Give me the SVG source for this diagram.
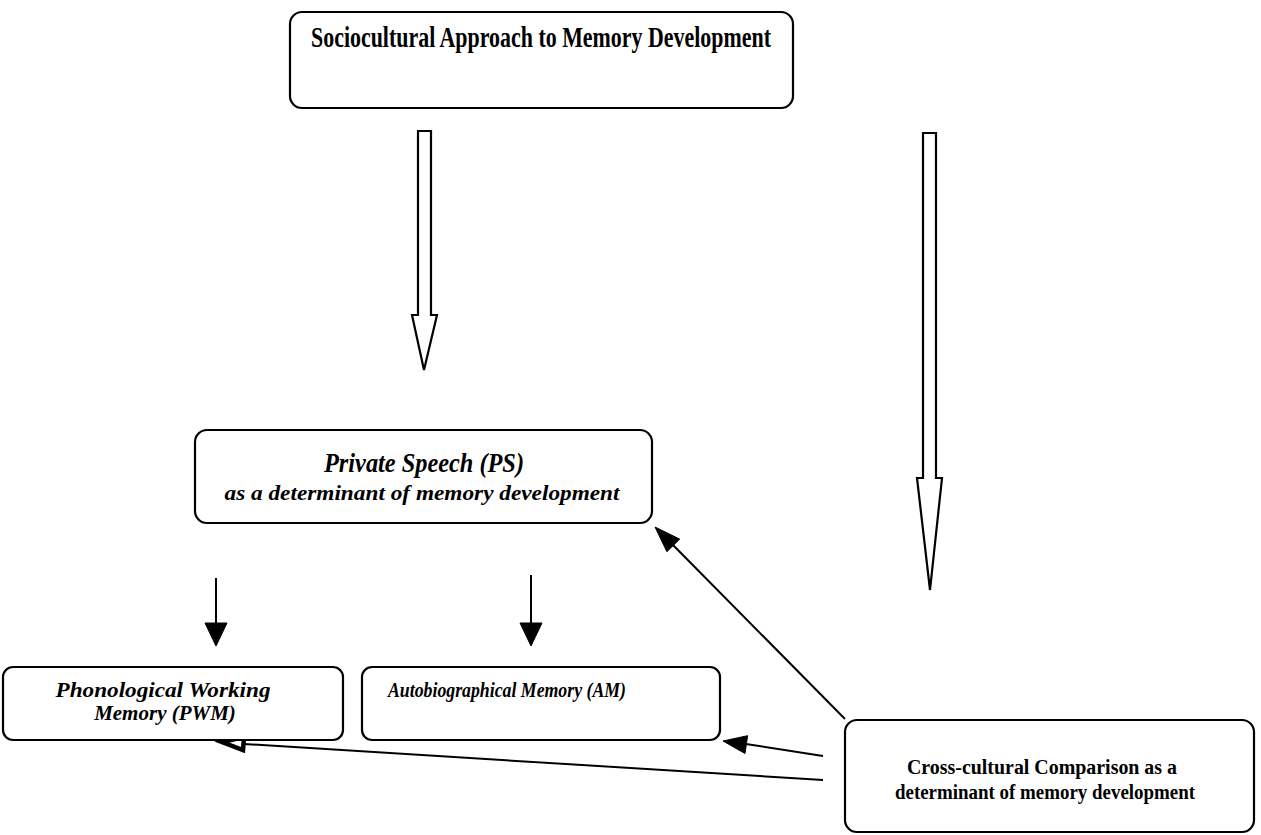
<svg xmlns="http://www.w3.org/2000/svg" width="1261" height="835" viewBox="0 0 1261 835">
<style>
.box{fill:#fff;stroke:#000;stroke-width:2.2}
.t{font-family:"Liberation Serif","Times New Roman",serif;fill:#000;font-weight:bold}
.i{font-style:italic}
.ln{stroke:#000;stroke-width:2;fill:none}
.hollow{fill:#fff;stroke:#000;stroke-width:2.2;stroke-linejoin:miter}
.head{fill:#000;stroke:#000;stroke-width:1}
</style>
<rect width="1261" height="835" fill="#fff"/>
<g id="connectors">
<path class="hollow" d="M418,131 L431,131 L431,315 L437,315 L424,370 L412,315 L418,315 Z"/>
<path class="hollow" d="M923,133 L936,133 L936,478 L942,478 L930,590 L917,478 L923,478 Z"/>
<line class="ln" x1="216" y1="578" x2="216" y2="624"/>
<path class="head" d="M205,623 L227,623 L216,646 Z"/>
<line class="ln" x1="531" y1="575" x2="531" y2="624"/>
<path class="head" d="M520,623 L542,623 L531,646 Z"/>
<line class="ln" x1="845" y1="719" x2="673" y2="545"/>
<path class="head" d="M655,527 L679.7,539.1 L666.9,551.7 Z"/>
<line class="ln" x1="823" y1="756" x2="746" y2="744"/>
<path class="head" d="M723,741 L747.6,735.7 L745.0,753.5 Z"/>
<line class="ln" x1="823" y1="780" x2="244" y2="744"/>
<path d="M222,742 L244,737 L243,750 Z" fill="#fff" stroke="#000" stroke-width="4.5" stroke-linejoin="miter"/>
</g>
<g id="n-top">
<rect class="box" x="290" y="12" width="503" height="96" rx="12"/>
<text class="t" x="541" y="47" font-size="30" text-anchor="middle" textLength="460" lengthAdjust="spacingAndGlyphs">Sociocultural Approach to Memory Development</text>
</g>
<g id="n-ps">
<rect class="box" x="195" y="430" width="457" height="93" rx="12"/>
<text class="t i" x="424" y="472" font-size="28" text-anchor="middle" textLength="200" lengthAdjust="spacingAndGlyphs">Private Speech (PS)</text>
<text class="t i" x="422" y="500" font-size="21" text-anchor="middle" textLength="395" lengthAdjust="spacingAndGlyphs">as a determinant of memory development</text>
</g>
<g id="n-pwm">
<rect class="box" x="3" y="667" width="340" height="73" rx="10"/>
<text class="t i" x="163" y="697" font-size="21" text-anchor="middle" textLength="215" lengthAdjust="spacingAndGlyphs">Phonological Working</text>
<text class="t i" x="165" y="720" font-size="21" text-anchor="middle">Memory (PWM)</text>
</g>
<g id="n-am">
<rect class="box" x="362" y="667" width="358" height="73" rx="10"/>
<text class="t i" x="388" y="697" font-size="21" textLength="238" lengthAdjust="spacingAndGlyphs">Autobiographical Memory (AM)</text>
</g>
<g id="n-cc">
<rect class="box" x="845" y="720" width="409" height="112" rx="12"/>
<text class="t" x="1042" y="774" font-size="20.5" text-anchor="middle" textLength="270" lengthAdjust="spacingAndGlyphs">Cross-cultural Comparison as a</text>
<text class="t" x="1045" y="799" font-size="20.5" text-anchor="middle" textLength="300" lengthAdjust="spacingAndGlyphs">determinant of memory development</text>
</g>
</svg>
